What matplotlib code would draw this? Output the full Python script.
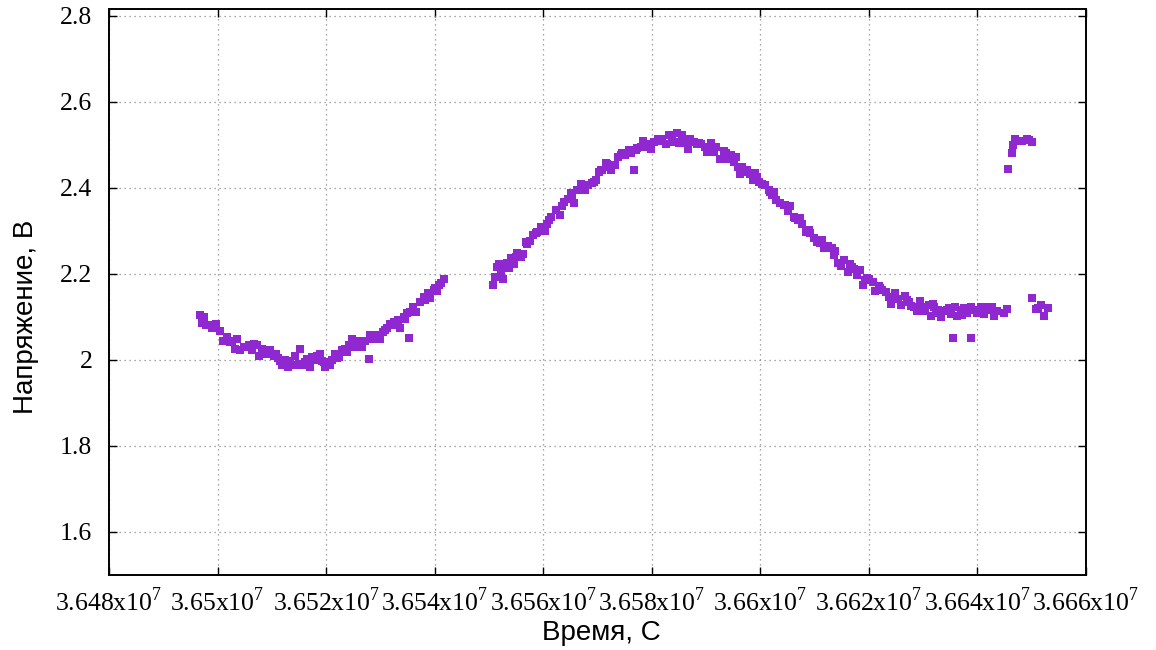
import matplotlib
matplotlib.use("Agg")
import matplotlib.pyplot as plt
from matplotlib.ticker import FuncFormatter, MultipleLocator

plt.rcParams['mathtext.fontset'] = 'custom'
plt.rcParams['mathtext.rm'] = 'Liberation Serif'

# Voltage log, time in seconds (three recording runs)
time_a = [36496700, 36497110, 36497540, 36498340, 36498960, 36499750, 36500370,
          36500980, 36501720, 36502640, 36503260, 36503560, 36504180, 36504790,
          36505710, 36506330, 36507250, 36507560, 36508170, 36508790, 36509710,
          36510320, 36510810, 36511430, 36511860, 36512470, 36512900, 36513390,
          36514320, 36514750, 36515240, 36515850, 36516470, 36517080, 36517700,
          36518310, 36518800, 36519230, 36519850, 36520460, 36521070, 36521690,
          36522300, 36522920, 36523530, 36524150, 36524760, 36525380, 36525990,
          36526600, 36527220, 36527960, 36528140, 36528630, 36529370, 36529980,
          36530470, 36531210, 36531830, 36532440, 36533180, 36533670, 36534280,
          36534900, 36535210, 36536000, 36536620, 36537360, 36537970, 36538710,
          36539200, 36539810, 36540430, 36540740, 36541660,
          36497910, 36502330, 36505100, 36506640, 36509090, 36511060, 36512170,
          36513890, 36514930, 36516160, 36517390, 36518620, 36519540, 36520770,
          36522000, 36523840, 36525070, 36529060, 36530900, 36532750, 36534590,
          36535510, 36538280, 36540120, 36541160]
volt_a = [2.104, 2.086, 2.100, 2.080, 2.073, 2.083, 2.067,
          2.044, 2.053, 2.045, 2.026, 2.049, 2.023, 2.031,
          2.034, 2.022, 2.034, 2.008, 2.026, 2.018, 2.022,
          2.008, 2.014, 1.998, 1.987, 2.000, 1.983, 1.998,
          2.010, 1.989, 2.026, 1.987, 2.002, 1.983, 2.000,
          2.010, 2.014, 1.998, 1.983, 1.991, 2.000, 2.014,
          2.006, 2.022, 2.026, 2.034, 2.049, 2.038, 2.044,
          2.030, 2.045, 2.002, 2.057, 2.049, 2.055, 2.049,
          2.065, 2.073, 2.084, 2.088, 2.092, 2.073, 2.100,
          2.108, 2.051, 2.123, 2.112, 2.135, 2.147, 2.155,
          2.143, 2.162, 2.159, 2.174, 2.187,
          2.080, 2.041, 2.030, 2.036, 2.014, 2.005, 1.995,
          1.989, 1.991, 1.995, 2.006, 2.005, 1.995, 1.987,
          2.005, 2.018, 2.030, 2.057, 2.069, 2.080, 2.096,
          2.112, 2.139, 2.166, 2.178]

time_b = [36550710, 36551210, 36551820, 36552250, 36552620, 36553050, 36553670,
          36554100, 36554590, 36555200, 36555820, 36556250, 36556740, 36557540,
          36558160, 36558890, 36559510, 36560310, 36560740, 36561350, 36562280,
          36563080, 36563810, 36564550, 36565040, 36565660, 36566270, 36566890,
          36567630, 36568240, 36568920, 36569660, 36570280, 36570890, 36571500,
          36572120, 36572550, 36573160, 36573780, 36574580, 36575070, 36575810,
          36576240, 36576730, 36577350, 36578090, 36578450, 36579190, 36579930,
          36580420, 36581160, 36581960, 36582570, 36583180, 36583800, 36584720,
          36585030, 36585650, 36585960, 36586700, 36587060, 36587800, 36588420,
          36589030, 36589770, 36590260, 36591000, 36591490, 36591800, 36592600,
          36593220, 36593960, 36594580, 36595190, 36595930, 36596300, 36596620,
          36597230, 36598160, 36598650, 36599080, 36599690, 36600310, 36600920,
          36601540, 36602150, 36602580, 36602950, 36603690, 36604610, 36605040,
          36605410, 36606150, 36606890, 36607380, 36607690, 36608490, 36609230,
          36609840, 36610460, 36611070, 36611810, 36612420, 36613220, 36613530,
          36614270, 36614880, 36615500, 36616120, 36616480, 36617340, 36617840,
          36618330, 36618940, 36619370, 36619990, 36620790, 36621220, 36621830,
          36622450, 36623250, 36623680, 36624110, 36624910, 36625340, 36625950,
          36626570, 36627060, 36627680, 36628290, 36628780, 36629400, 36629830,
          36630260, 36631060, 36631370, 36631860, 36632290, 36632720, 36633210,
          36633830, 36634440, 36635060, 36635490, 36635800, 36636290, 36636900,
          36637520, 36638130, 36638750, 36638870, 36639360, 36639980, 36640590,
          36641210, 36641940, 36642440, 36643050, 36643670, 36644920, 36645410,
          36551510, 36553360, 36554900, 36557050, 36558590, 36561050, 36563510,
          36565350, 36567200, 36569350, 36570590, 36571820, 36574270, 36575500,
          36577040, 36578880, 36581650, 36584110, 36586570, 36588720, 36590880,
          36593650, 36595500, 36597540, 36599390, 36601850, 36604310, 36606460,
          36608920, 36611380, 36613840, 36616910, 36619680, 36622140, 36624600,
          36627370, 36629520, 36632010, 36634750, 36637210, 36640900, 36642750]
volt_b = [2.175, 2.192, 2.223, 2.205, 2.188, 2.217, 2.213,
          2.236, 2.223, 2.248, 2.239, 2.246, 2.273, 2.277,
          2.290, 2.298, 2.308, 2.300, 2.317, 2.333, 2.348,
          2.337, 2.368, 2.373, 2.387, 2.364, 2.395, 2.410,
          2.396, 2.406, 2.412, 2.418, 2.437, 2.442, 2.458,
          2.449, 2.441, 2.452, 2.472, 2.481, 2.476, 2.487,
          2.480, 2.442, 2.493, 2.496, 2.509, 2.501, 2.491,
          2.507, 2.514, 2.510, 2.503, 2.522, 2.518, 2.527,
          2.504, 2.522, 2.504, 2.491, 2.514, 2.507, 2.501,
          2.503, 2.495, 2.483, 2.504, 2.483, 2.495, 2.466,
          2.486, 2.466, 2.476, 2.460, 2.449, 2.432, 2.449,
          2.437, 2.433, 2.419, 2.435, 2.414, 2.410, 2.406,
          2.395, 2.383, 2.391, 2.371, 2.365, 2.360, 2.347,
          2.358, 2.333, 2.325, 2.329, 2.316, 2.298, 2.294,
          2.283, 2.275, 2.271, 2.260, 2.265, 2.260, 2.244,
          2.226, 2.219, 2.232, 2.205, 2.223, 2.211, 2.198,
          2.208, 2.175, 2.185, 2.188, 2.182, 2.159, 2.171,
          2.163, 2.157, 2.146, 2.131, 2.155, 2.141, 2.128,
          2.149, 2.140, 2.126, 2.124, 2.113, 2.136, 2.124,
          2.113, 2.128, 2.101, 2.130, 2.110, 2.115, 2.100,
          2.113, 2.117, 2.107, 2.051, 2.124, 2.101, 2.115,
          2.121, 2.110, 2.124, 2.051, 2.117, 2.110, 2.124,
          2.107, 2.124, 2.115, 2.101, 2.113, 2.110, 2.118,
          2.217, 2.225, 2.240, 2.270, 2.294, 2.325, 2.358,
          2.379, 2.402, 2.414, 2.441, 2.456, 2.476, 2.480,
          2.489, 2.495, 2.514, 2.507, 2.507, 2.504, 2.495,
          2.480, 2.472, 2.441, 2.425, 2.391, 2.360, 2.329,
          2.302, 2.279, 2.252, 2.217, 2.190, 2.167, 2.144,
          2.134, 2.121, 2.124, 2.121, 2.105, 2.117, 2.124]

time_c = [36645720, 36646340, 36646580, 36646950, 36647690, 36648300, 36649110,
          36649540, 36649970, 36650150, 36650770, 36651190, 36651810, 36652300,
          36653100]
volt_c = [2.443, 2.480, 2.500, 2.514, 2.509, 2.510, 2.514,
          2.512, 2.507, 2.144, 2.118, 2.121, 2.128, 2.103,
          2.120]

t_min, t_max = 36480000, 36660000
v_min, v_max = 1.5, 2.815


def sci_label(v, pos):
    return r'%gx10$^{\mathrm{7}}$' % (v / 1e7)


fig = plt.figure(figsize=(11.56, 6.5), dpi=100)
ax = fig.add_axes([0.0943, 0.1154, 0.8451, 0.8703])

for t, v in [(time_a, volt_a), (time_b, volt_b), (time_c, volt_c)]:
    ax.plot(t, v, linestyle='none', marker='s', markersize=5.2,
            color='#8f28d0', markeredgewidth=0)

ax.set_xlim(t_min, t_max)
ax.set_ylim(v_min, v_max)
ax.xaxis.set_major_locator(MultipleLocator(20000))
ax.yaxis.set_major_locator(MultipleLocator(0.2))
ax.xaxis.set_major_formatter(FuncFormatter(sci_label))
ax.yaxis.set_major_formatter(FuncFormatter(lambda v, p: '%g' % v))

ax.grid(True, linestyle=(0, (1, 3)), color='#8a8a8a', linewidth=0.9)
ax.tick_params(direction='in', length=6, width=1, top=True, right=True,
               labelsize=18.5, colors='black')
ax.tick_params(axis='x', pad=9)
ax.tick_params(axis='y', pad=12)
for lbl in ax.get_xticklabels() + ax.get_yticklabels():
    lbl.set_family('Liberation Serif')
for sp in ax.spines.values():
    sp.set_linewidth(1.4)

ax.set_xlabel('Время, С', fontsize=20, family='Liberation Sans')
ax.set_ylabel('Напряжение, В', fontsize=20, family='Liberation Sans')
ax.xaxis.set_label_coords(0.504, -0.079)
ax.yaxis.set_label_coords(-0.072, 0.456)

fig.savefig('out.png', dpi=100)
